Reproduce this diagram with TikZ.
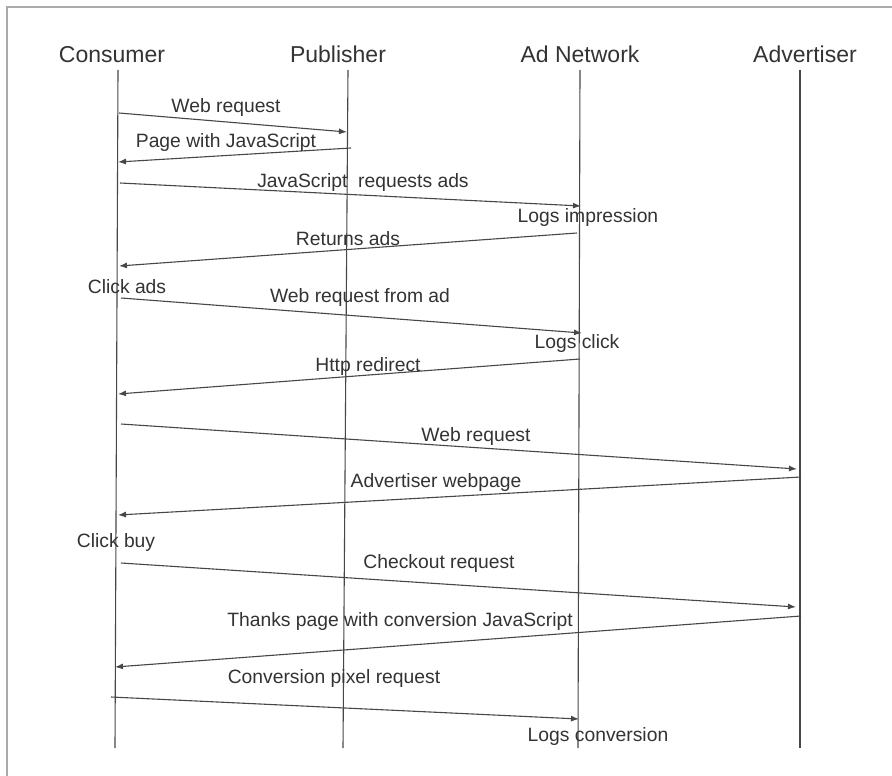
\documentclass[tikz,border=0pt]{standalone}
\usepackage{fontspec}
\setmainfont{Liberation Sans}
\usetikzlibrary{arrows.meta}
\definecolor{framegray}{HTML}{AAAAAA}
\definecolor{inkline}{HTML}{474747}
\definecolor{inktext}{HTML}{333333}
\tikzset{
  head/.style={anchor=base, inner sep=0pt, text=inktext, font=\fontsize{23}{26}\selectfont},
  lbl/.style={anchor=base, inner sep=0pt, text=inktext, font=\fontsize{19.3}{22}\selectfont},
  life/.style={draw=inkline, line width=1.1pt},
  msg/.style={draw=inkline, line width=1.1pt, -{Latex[length=8pt,width=6pt]}},
  frameline/.style={draw=framegray, line width=2pt}
}
\begin{document}
\begin{tikzpicture}[x=1pt,y=-1pt]
\useasboundingbox (0,0) rectangle (892,776);
\fill[white] (0,0) rectangle (892,776);
\draw[frameline] (7,776) -- (7,7) -- (892,7);

% headers
\node[head] (hC) at (112,63) {Consumer};
\node[head] (hP) at (338,63) {Publisher};
\node[head] (hN) at (580,63) {Ad Network};
\node[head] (hA) at (805,63) {Advertiser};

% lifelines
\coordinate (Ct) at (118,70); \coordinate (Cb) at (115,748);
\coordinate (Pt) at (348,70); \coordinate (Pb) at (343,748);
\coordinate (Nt) at (580,70); \coordinate (Nb) at (578,748);
\coordinate (At) at (800,70); \coordinate (Ab) at (800,748);
\draw[life] (Ct) -- (Cb);
\draw[life] (Pt) -- (Pb);
\draw[life] (Nt) -- (Nb);
\draw[life] (At) -- (Ab);

% messages
\coordinate (m1s) at (119,113); \coordinate (m1e) at (347,132);
\draw[msg] (m1s) -- (m1e);
\node[lbl] (l1) at (226,112) {Web request};

\coordinate (m2s) at (351,148); \coordinate (m2e) at (118,162);
\draw[msg] (m2s) -- (m2e);
\node[lbl] (l2) at (226,147) {Page with JavaScript};

\coordinate (m3s) at (120,183); \coordinate (m3e) at (581,206);
\draw[msg] (m3s) -- (m3e);
\node[lbl] (l3) at (363,187) {JavaScript~ requests ads};
\node[lbl] (l4) at (588,222) {Logs impression};

\coordinate (m5s) at (577,233); \coordinate (m5e) at (119,266);
\draw[msg] (m5s) -- (m5e);
\node[lbl] (l5) at (348,245) {Returns ads};

\node[lbl] (l6) at (127,293) {Click ads};
\coordinate (m7s) at (121,298); \coordinate (m7e) at (582,333);
\draw[msg] (m7s) -- (m7e);
\node[lbl] (l7) at (360,302) {Web request from ad};
\node[lbl] (l8) at (577,348) {Logs click};

\coordinate (m9s) at (580,359); \coordinate (m9e) at (118,394);
\draw[msg] (m9s) -- (m9e);
\node[lbl] (l9) at (368,371) {Http redirect};

\coordinate (m10s) at (121,424); \coordinate (m10e) at (797,469);
\draw[msg] (m10s) -- (m10e);
\node[lbl] (l10) at (476,441) {Web request};

\coordinate (m11s) at (801,477); \coordinate (m11e) at (118,515);
\draw[msg] (m11s) -- (m11e);
\node[lbl] (l11) at (436,487) {Advertiser webpage};

\node[lbl] (l12) at (116,547) {Click buy};
\coordinate (m13s) at (121,563); \coordinate (m13e) at (796,607);
\draw[msg] (m13s) -- (m13e);
\node[lbl] (l13) at (439,568) {Checkout request};

\coordinate (m14s) at (801,616); \coordinate (m14e) at (115,667);
\draw[msg] (m14s) -- (m14e);
\node[lbl] (l14) at (400,626) {Thanks page with conversion JavaScript};

\coordinate (m15s) at (111,697); \coordinate (m15e) at (579,719);
\draw[msg] (m15s) -- (m15e);
\node[lbl] (l15) at (334,683) {Conversion pixel request};
\node[lbl] (l16) at (598,741) {Logs conversion};
\end{tikzpicture}
\end{document}
